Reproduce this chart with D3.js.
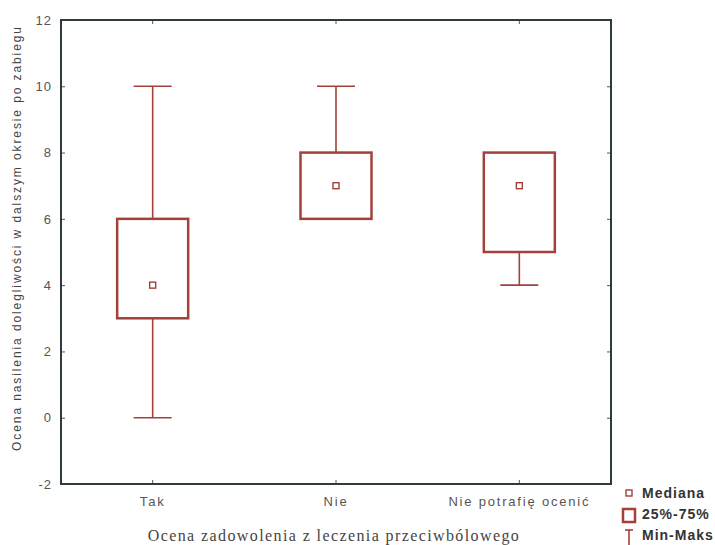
<!DOCTYPE html>
<html>
<head>
<meta charset="utf-8">
<script src="https://cdn.jsdelivr.net/npm/d3@7"></script>
<style>
  body { margin: 0; background: #fff; }
  svg { display: block; font-family: "Liberation Sans", Arial, sans-serif; }
  .tick text { fill: #555; font-size: 13px; letter-spacing: 1px; }
  .x-axis .tick text { letter-spacing: 1.8px; }
  .box { fill: none; stroke: #a3403a; stroke-width: 2.5; }
  .whisker { stroke: #a3403a; stroke-width: 1.6; }
  .median { fill: none; stroke: #a3403a; stroke-width: 1.4; }
</style>
</head>
<body>
<div class="chart-container"></div>
<script>
var categories = ['Tak', 'Nie', 'Nie potrafię ocenić'];
var minValues = [0, 6, 4];
var q1Values = [3, 6, 5];
var medianValues = [4, 7, 7];
var q3Values = [6, 8, 8];
var maxValues = [10, 10, 8];
var yTicks = [-2, 0, 2, 4, 6, 8, 10, 12];

var width = 715;
var height = 545;
var margin = { top: 20, right: 104, bottom: 61, left: 61 };

var data = categories.map(function (c, i) {
  return { group: c, min: minValues[i], q1: q1Values[i], med: medianValues[i], q3: q3Values[i], max: maxValues[i] };
});

var svg = d3.select('.chart-container').append('svg')
  .attr('width', width)
  .attr('height', height);

var x = d3.scaleBand()
  .domain(categories)
  .range([margin.left, width - margin.right])
  .padding(0);

var y = d3.scaleLinear()
  .domain([-2, 12])
  .range([height - margin.bottom, margin.top]);

var boxW = 71;
var capW = 38;

// left axis
var yAxis = svg.append('g')
  .attr('transform', 'translate(' + margin.left + ',0)')
  .call(d3.axisLeft(y).tickValues(yTicks).tickSize(-4).tickPadding(9)
    .tickFormat(function (d) { return String(d); }));
yAxis.select('.domain').remove();
yAxis.selectAll('.tick line').attr('stroke', '#555');

// right axis ticks
var yAxisR = svg.append('g')
  .attr('transform', 'translate(' + (width - margin.right) + ',0)')
  .call(d3.axisRight(y).tickValues(yTicks).tickSize(-4).tickFormat(''));
yAxisR.select('.domain').remove();
yAxisR.selectAll('.tick line').attr('stroke', '#555');

// bottom axis
var xAxis = svg.append('g')
  .attr('class', 'x-axis')
  .attr('transform', 'translate(0,' + (height - margin.bottom) + ')')
  .call(d3.axisBottom(x).tickSize(-4).tickPadding(13));
xAxis.select('.domain').remove();
xAxis.selectAll('.tick line').attr('stroke', '#555');

// top axis ticks
var xAxisT = svg.append('g')
  .attr('transform', 'translate(0,' + margin.top + ')')
  .call(d3.axisTop(x).tickSize(-4).tickFormat(''));
xAxisT.select('.domain').remove();
xAxisT.selectAll('.tick line').attr('stroke', '#555');

// frame
svg.append('rect')
  .attr('x', margin.left)
  .attr('y', margin.top)
  .attr('width', width - margin.left - margin.right)
  .attr('height', height - margin.top - margin.bottom)
  .attr('fill', 'none')
  .attr('stroke', '#2f3b3b')
  .attr('stroke-width', 2);

var g = svg.selectAll('.boxplot')
  .data(data)
  .enter()
  .append('g')
  .attr('class', 'boxplot')
  .attr('transform', function (d) { return 'translate(' + (x(d.group) + x.bandwidth() / 2) + ',0)'; });

// whiskers
g.append('line')
  .attr('class', 'whisker')
  .attr('x1', 0).attr('x2', 0)
  .attr('y1', function (d) { return y(d.max); })
  .attr('y2', function (d) { return y(d.q3); });

g.append('line')
  .attr('class', 'whisker')
  .attr('x1', 0).attr('x2', 0)
  .attr('y1', function (d) { return y(d.q1); })
  .attr('y2', function (d) { return y(d.min); });

g.filter(function (d) { return d.max > d.q3; })
  .append('line')
  .attr('class', 'whisker')
  .attr('x1', -capW / 2).attr('x2', capW / 2)
  .attr('y1', function (d) { return y(d.max); })
  .attr('y2', function (d) { return y(d.max); });

g.filter(function (d) { return d.min < d.q1; })
  .append('line')
  .attr('class', 'whisker')
  .attr('x1', -capW / 2).attr('x2', capW / 2)
  .attr('y1', function (d) { return y(d.min); })
  .attr('y2', function (d) { return y(d.min); });

// boxes
g.append('rect')
  .attr('class', 'box')
  .attr('x', -boxW / 2)
  .attr('width', boxW)
  .attr('y', function (d) { return y(d.q3); })
  .attr('height', function (d) { return y(d.q1) - y(d.q3); });

// medians
g.append('rect')
  .attr('class', 'median')
  .attr('x', -3)
  .attr('y', function (d) { return y(d.med) - 3; })
  .attr('width', 6)
  .attr('height', 6);

// axis titles
svg.append('text')
  .attr('transform', 'translate(21,' + 238 + ') rotate(-90)')
  .attr('text-anchor', 'middle')
  .attr('fill', '#444')
  .style('font-size', '12px')
  .style('letter-spacing', '1.9px')
  .text('Ocena nasilenia dolegliwości w dalszym okresie po zabiegu');

svg.append('text')
  .attr('x', 334)
  .attr('y', 541)
  .attr('text-anchor', 'middle')
  .attr('fill', '#444')
  .style('font-family', '"Liberation Serif", "Times New Roman", serif')
  .style('font-size', '16px')
  .style('letter-spacing', '1.4px')
  .text('Ocena  zadowolenia z leczenia przeciwbólowego');

// legend
var legend = svg.append('g').attr('transform', 'translate(620,0)');

legend.append('rect')
  .attr('class', 'median')
  .attr('x', 6).attr('y', 490).attr('width', 6).attr('height', 6);
legend.append('rect')
  .attr('class', 'box')
  .attr('x', 3).attr('y', 509).attr('width', 12).attr('height', 13)
  .attr('stroke-width', 2.2);
legend.append('line').attr('class', 'whisker')
  .attr('x1', 9).attr('x2', 9).attr('y1', 530).attr('y2', 545);
legend.append('line').attr('class', 'whisker')
  .attr('x1', 5).attr('x2', 13).attr('y1', 530).attr('y2', 530);

var legendLabels = ['Mediana', '25%-75%', 'Min-Maks'];
legend.selectAll('.legend-label')
  .data(legendLabels)
  .enter()
  .append('text')
  .attr('class', 'legend-label')
  .attr('x', 22)
  .attr('y', function (d, i) { return 498 + i * 21; })
  .attr('fill', '#333')
  .style('font-size', '14px')
  .style('font-weight', 'bold')
  .style('letter-spacing', '1px')
  .text(function (d) { return d; });
</script>
</body>
</html>
